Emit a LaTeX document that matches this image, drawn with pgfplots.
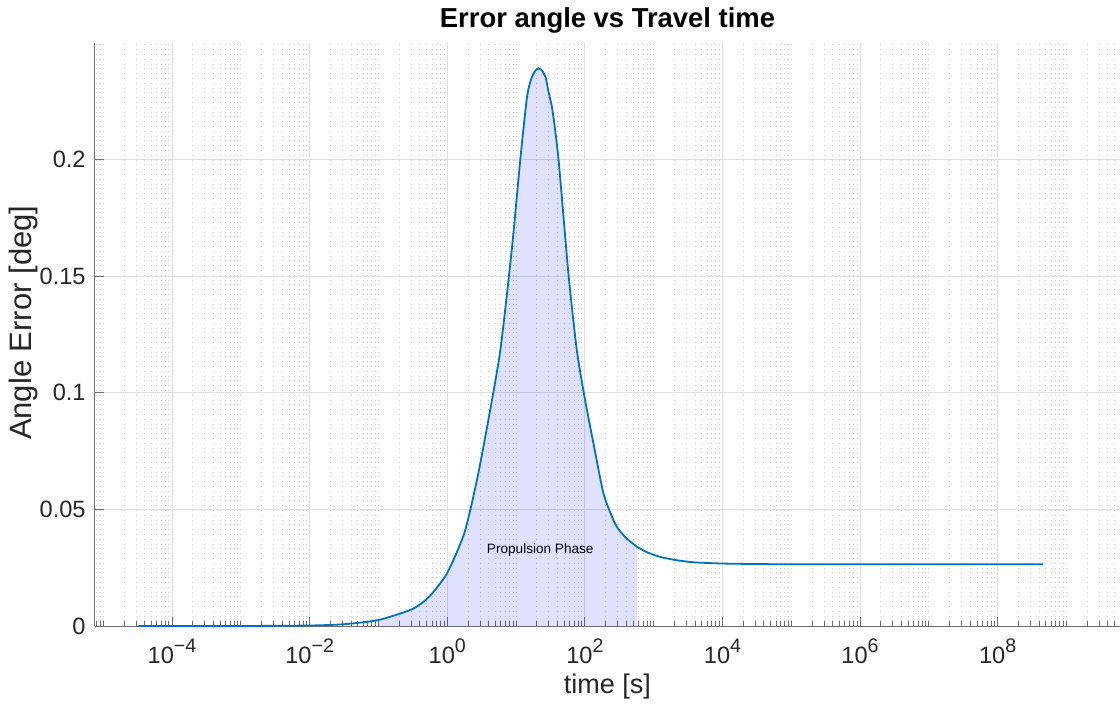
\documentclass[border=0pt]{standalone}
\usepackage{pgfplots}
\pgfplotsset{compat=1.18}
\usepackage{fontspec}
\setmainfont{Liberation Sans}

\definecolor{lineblue}{RGB}{0,114,189}
\definecolor{axisgray}{RGB}{110,110,110}
\definecolor{textdark}{RGB}{38,38,38}

% power-of-ten tick label in the text font
\newcommand{\pw}[1]{10\raisebox{0.45em}{\fontsize{9.8}{10}\selectfont #1}}

\begin{document}
\begin{tikzpicture}
\useasboundingbox (-47.5pt,-39pt) rectangle (512.5pt,313.05pt);
\begin{axis}[
  scale only axis,
  width=512.5pt, height=291.65pt,
  xmode=log,
  xmin=7.59e-6, xmax=6.0e9,
  ymin=0, ymax=0.25,
  axis x line*=bottom, axis y line*=left,
  axis line style={-, draw=axisgray, line width=0.5pt},
  tick align=inside,
  major tick length=4.5pt, minor tick length=2.5pt,
  tick style={draw=axisgray, line width=0.4pt},
  xtick={1e-4,1e-2,1,1e2,1e4,1e6,1e8},
  xticklabels={\pw{−4},\pw{−2},\pw{0},\pw{2},\pw{4},\pw{6},\pw{8}},
  minor xtick={8e-6,9e-6,
    1e-5,2e-5,3e-5,4e-5,5e-5,6e-5,7e-5,8e-5,9e-5,
    2e-4,3e-4,4e-4,5e-4,6e-4,7e-4,8e-4,9e-4,
    1e-3,2e-3,3e-3,4e-3,5e-3,6e-3,7e-3,8e-3,9e-3,
    2e-2,3e-2,4e-2,5e-2,6e-2,7e-2,8e-2,9e-2,
    0.1,0.2,0.3,0.4,0.5,0.6,0.7,0.8,0.9,
    2,3,4,5,6,7,8,9,
    10,20,30,40,50,60,70,80,90,
    200,300,400,500,600,700,800,900,
    1e3,2e3,3e3,4e3,5e3,6e3,7e3,8e3,9e3,
    2e4,3e4,4e4,5e4,6e4,7e4,8e4,9e4,
    1e5,2e5,3e5,4e5,5e5,6e5,7e5,8e5,9e5,
    2e6,3e6,4e6,5e6,6e6,7e6,8e6,9e6,
    1e7,2e7,3e7,4e7,5e7,6e7,7e7,8e7,9e7,
    2e8,3e8,4e8,5e8,6e8,7e8,8e8,9e8,
    1e9,2e9,3e9,4e9,5e9},
  ytick={0,0.05,0.1,0.15,0.2},
  yticklabels={0,0.05,0.1,0.15,0.2},
  minor ytick={},
  grid=both,
  major grid style={solid, draw=black!13, line width=0.4pt},
  minor grid style={dotted, draw=black!18, line width=0.4pt},
  ticklabel style={font=\fontsize{11.8}{13}\selectfont, text=textdark},
  xticklabel style={anchor=base, inner sep=0pt, yshift=-18.5pt},
  yticklabel style={anchor=east, inner sep=0pt, xshift=-4.5pt},
  xlabel={time [s]},
  ylabel={Angle Error [deg]},
  xlabel style={font=\fontsize{13.5}{15}\selectfont, text=textdark,
    at={(axis description cs:0.5,0)}, anchor=base, yshift=-33.5pt},
  ylabel style={font=\fontsize{15.5}{17}\selectfont, text=textdark,
    at={(axis description cs:-0.0615,0.52)}, anchor=base},
  title={Error angle vs Travel time},
  title style={font=\fontsize{13.7}{15}\selectfont\bfseries, text=black,
    at={(axis description cs:0.5,1)}, anchor=base, yshift=1.85pt},
  clip=true,
]
% propulsion phase: area under the curve
\addplot[draw=none, fill=blue, fill opacity=0.12, smooth, tension=0.4] coordinates {
  (0.1,0.0026) (0.3162,0.0074) (0.5623,0.0130) (1,0.0228)
  (1.778,0.0400) (2.692,0.0624) (3.776,0.0850) (5.888,0.1179)
  (8.710,0.1620) (11.51,0.1998) (14.39,0.2265) (16.60,0.2345)
  (19.05,0.2380) (21.38,0.2390) (23.99,0.2380) (26.92,0.2352)
  (29.65,0.2290) (33.88,0.2210) (41.50,0.1998) (57.94,0.1506)
  (76.74,0.1179) (101.4,0.0965) (134.0,0.0780) (187.1,0.0567)
  (261.2,0.0453) (316.2,0.0411) (407.4,0.0375) (575.4,0.0340)
} \closedcycle;
% error angle over time
\addplot[draw=lineblue, line width=0.9pt, smooth, tension=0.4] coordinates {
  (3.24e-5,0) (1e-4,0) (1e-3,0.00003) (1e-2,0.00025) (3.162e-2,0.0008)
  (0.1,0.0026) (0.3162,0.0074) (0.5623,0.0130) (1,0.0228)
  (1.778,0.0400) (2.692,0.0624) (3.776,0.0850) (5.888,0.1179)
  (8.710,0.1620) (11.51,0.1998) (14.39,0.2265) (16.60,0.2345)
  (19.05,0.2380) (21.38,0.2390) (23.99,0.2380) (26.92,0.2352)
  (29.65,0.2290) (33.88,0.2210) (41.50,0.1998) (57.94,0.1506)
  (76.74,0.1179) (101.4,0.0965) (134.0,0.0780) (187.1,0.0567)
  (261.2,0.0453) (316.2,0.0411) (407.4,0.0375) (575.4,0.0340)
  (794.3,0.0317) (1259,0.0296) (2188,0.0282) (3981,0.0273)
  (1.047e4,0.0268) (3.162e4,0.0266) (1.349e5,0.0265) (4.57e8,0.0265)
};
\node[anchor=base, font=\fontsize{6.8}{8}\selectfont, text=black]
  at (axis cs:22.5,0.0310) {Propulsion Phase};
\end{axis}
\end{tikzpicture}
\end{document}
